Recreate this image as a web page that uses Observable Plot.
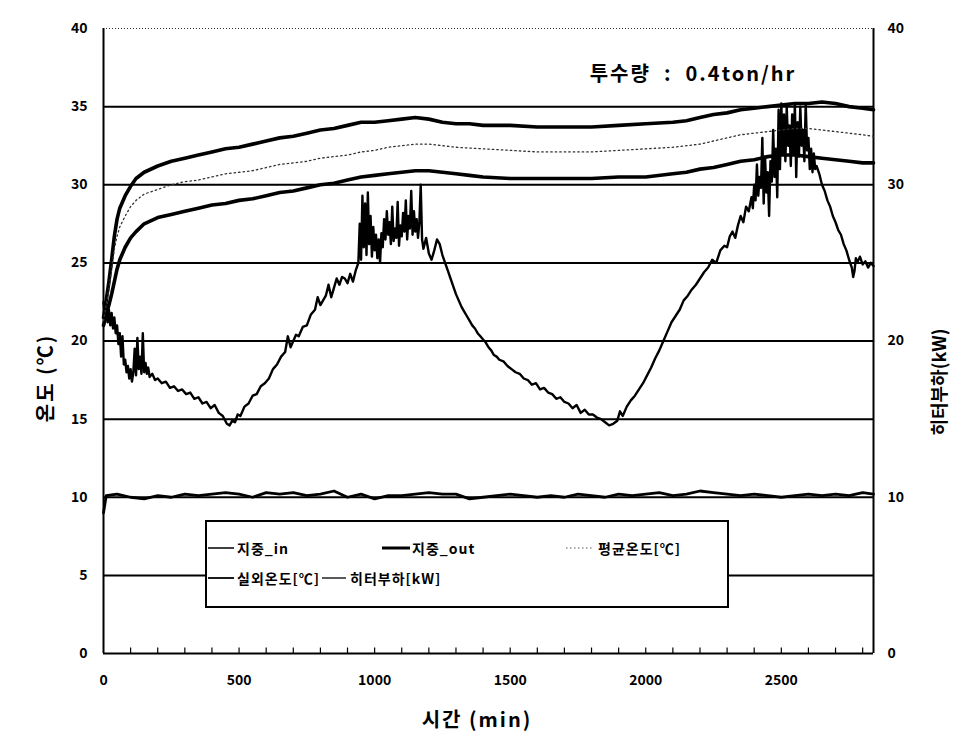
<!DOCTYPE html>
<html><head><meta charset="utf-8">
<script src="https://cdn.jsdelivr.net/npm/d3@7"></script>
<script src="https://cdn.jsdelivr.net/npm/@observablehq/plot@0.6"></script>
<style>body{margin:0;background:#fff} svg{display:block}</style>
</head><body><div id="chart"></div>
<script>
// ---------- data ----------
const xDomain = [0, 2840];
const yDomain = [0, 40];
const xTicks = [0, 500, 1000, 1500, 2000, 2500];
const minorTicks = [100,200,300,400,500,600,700,800,900,1000,1100,1200,1300,1400,1500,1600,1700,1800,1900,2000,2100,2200,2300,2400,2500,2600,2700,2800];
const leftTicks = [0, 5, 10, 15, 20, 25, 30, 35, 40];
const rightTicks = [0, 10, 20, 30, 40];
const gridValues = [5, 10, 15, 20, 25, 30, 35];

const groundTime = [0,5,10,20,30,40,50,60,80,100,120,150,200,250,300,350,400,450,500,550,600,650,700,750,800,850,900,950,1000,1050,1100,1150,1200,1250,1300,1350,1400,1500,1600,1700,1800,1900,2000,2100,2150,2200,2250,2300,2350,2400,2450,2500,2550,2600,2650,2700,2750,2800,2840];
const groundOut = [21.5,22.0,22.6,23.8,25.2,26.7,27.8,28.5,29.3,29.9,30.4,30.8,31.2,31.5,31.7,31.9,32.1,32.3,32.4,32.6,32.8,33.0,33.1,33.3,33.5,33.6,33.8,34.0,34.0,34.1,34.2,34.3,34.2,34.0,33.9,33.9,33.8,33.8,33.7,33.7,33.7,33.8,33.9,34.0,34.1,34.3,34.5,34.6,34.8,34.9,35.0,35.1,35.2,35.2,35.3,35.2,35.0,34.9,34.8];
const groundIn = [21.0,21.3,21.7,22.3,23.0,23.8,24.6,25.2,26.0,26.6,27.0,27.5,27.9,28.1,28.3,28.5,28.7,28.8,29.0,29.1,29.3,29.5,29.6,29.8,30.0,30.1,30.3,30.5,30.6,30.7,30.8,30.9,30.9,30.8,30.7,30.6,30.5,30.4,30.4,30.4,30.4,30.5,30.5,30.7,30.8,31.0,31.1,31.3,31.5,31.6,31.8,31.9,31.9,31.8,31.7,31.6,31.5,31.4,31.4];
const groundMean = [21.3,21.8,22.3,23.3,24.6,25.9,26.7,27.3,28.0,28.6,29.0,29.4,29.7,30.0,30.2,30.3,30.5,30.7,30.8,30.9,31.1,31.3,31.4,31.5,31.7,31.8,31.9,32.1,32.2,32.4,32.5,32.6,32.6,32.5,32.4,32.35,32.3,32.2,32.1,32.1,32.1,32.2,32.3,32.4,32.5,32.6,32.8,33.0,33.2,33.3,33.4,33.5,33.6,33.6,33.5,33.4,33.3,33.2,33.1];

const outdoorTime = [0,5,10,15,20,25,30,35,40,45,50,55,60,65,70,75,80,85,90,95,100,105,110,115,120,125,130,135,140,145,150,155,160,165,170,180,190,200,215,230,245,260,275,290,305,320,335,350,365,380,395,410,425,440,455,465,475,485,495,505,520,535,550,565,580,595,610,625,640,655,670,680,690,700,710,720,735,750,765,780,790,800,810,820,830,840,850,860,870,880,890,900,910,920,930,940,945,950,955,960,965,970,975,980,985,990,995,1000,1005,1010,1015,1020,1025,1030,1035,1040,1045,1050,1055,1060,1065,1070,1075,1080,1085,1090,1095,1100,1105,1110,1115,1120,1125,1130,1135,1140,1145,1150,1155,1160,1165,1170,1175,1180,1190,1200,1210,1220,1230,1240,1250,1260,1270,1280,1290,1300,1310,1320,1330,1340,1350,1360,1370,1380,1390,1400,1410,1420,1430,1440,1450,1460,1475,1490,1505,1520,1535,1550,1565,1580,1595,1610,1625,1640,1655,1670,1685,1700,1715,1730,1745,1760,1775,1790,1805,1820,1835,1850,1865,1880,1895,1905,1915,1930,1945,1960,1975,1990,2005,2020,2035,2050,2065,2080,2095,2110,2125,2140,2155,2170,2185,2200,2215,2230,2245,2260,2275,2290,2300,2310,2320,2330,2340,2350,2360,2370,2380,2390,2395,2400,2405,2410,2415,2420,2425,2430,2435,2440,2445,2450,2455,2460,2465,2470,2475,2480,2485,2490,2495,2500,2505,2510,2515,2520,2525,2530,2535,2540,2545,2550,2555,2560,2565,2570,2575,2580,2585,2590,2595,2600,2605,2610,2615,2620,2625,2630,2640,2650,2660,2670,2680,2690,2700,2710,2720,2730,2740,2750,2760,2765,2770,2775,2780,2790,2800,2810,2820,2830,2840];
const outdoorTemp = [22.5,21.5,22.3,21.2,22.0,21.0,21.8,20.8,21.5,20.5,21.0,19.8,20.5,19.0,20.3,18.5,18.8,18.0,18.4,17.6,18.2,17.4,18.0,19.5,17.8,20.2,18.2,19.0,17.9,20.5,18.0,18.6,17.9,18.3,17.7,17.9,17.5,17.6,17.3,17.4,17.0,17.1,16.8,16.9,16.6,16.7,16.3,16.4,16.0,16.1,15.7,15.9,15.4,15.2,14.7,14.6,14.9,14.8,15.3,15.2,15.8,16.0,16.5,16.6,17.1,17.3,17.6,18.2,18.5,19.0,19.3,20.3,19.6,20.0,20.4,20.3,20.9,21.0,21.7,22.0,22.8,22.3,22.6,22.9,23.6,22.8,23.4,24.0,23.6,24.1,24.0,23.7,24.3,23.8,24.5,25.0,27.5,25.2,29.3,26.0,28.8,25.5,29.5,26.2,28.0,25.4,27.3,25.8,26.8,25.3,26.5,25.0,26.9,26.0,27.8,26.5,28.3,26.8,27.6,26.2,28.6,26.4,27.2,26.6,28.9,26.1,27.4,26.7,28.2,27.0,29.0,26.5,28.0,27.2,29.6,26.8,28.3,27.0,27.8,26.6,27.6,30.0,26.5,25.9,26.6,25.6,25.2,25.8,26.5,26.2,25.5,25.0,24.5,24.0,23.5,23.0,22.6,22.2,21.9,21.6,21.3,21.0,20.8,20.5,20.3,20.1,19.9,19.6,19.4,19.1,19.0,18.8,18.7,18.4,18.2,18.0,17.9,17.6,17.5,17.2,17.3,16.9,17.0,16.7,16.6,16.3,16.4,16.1,16.0,15.7,15.9,15.4,15.6,15.3,15.3,15.1,15.0,14.8,14.6,14.7,14.9,15.5,15.2,15.8,16.2,16.5,16.9,17.3,17.8,18.3,18.9,19.4,20.0,20.6,21.2,21.6,22.0,22.6,22.9,23.3,23.6,24.0,24.4,24.7,25.2,25.0,25.8,26.1,26.0,26.7,27.0,26.6,27.4,28.0,27.6,28.6,28.3,29.2,28.5,30.0,29.0,31.3,29.3,30.5,29.8,33.0,28.8,31.8,29.5,30.8,28.0,31.5,30.2,33.5,30.5,32.3,29.2,34.8,31.0,35.2,32.0,34.5,31.5,35.0,32.5,33.8,31.2,34.5,32.0,35.2,30.5,34.0,31.8,35.0,32.5,33.5,31.5,35.2,32.2,33.0,31.0,32.3,30.8,32.0,31.0,31.2,30.7,30.0,29.6,29.0,28.6,28.0,27.6,27.1,26.8,26.2,25.8,25.2,24.7,24.1,24.5,25.3,25.0,25.4,24.9,25.1,24.7,25.0,24.8];

const heaterTime = [0,10,50,100,150,200,250,300,350,400,450,500,550,600,650,700,750,800,850,900,950,1000,1050,1100,1150,1200,1250,1300,1350,1400,1450,1500,1550,1600,1650,1700,1750,1800,1850,1900,1950,2000,2050,2100,2150,2200,2250,2300,2350,2400,2450,2500,2550,2600,2650,2700,2750,2800,2840];
const heaterLoad = [9.0,10.1,10.2,10.0,9.9,10.1,10.0,10.2,10.1,10.2,10.3,10.2,10.0,10.3,10.2,10.3,10.1,10.2,10.4,10.0,10.2,9.9,10.1,10.1,10.2,10.3,10.2,10.2,9.9,10.0,10.1,10.2,10.1,10.0,10.1,10.0,10.2,10.1,10.0,10.2,10.1,10.2,10.3,10.1,10.2,10.4,10.3,10.2,10.1,10.2,10.1,10.0,10.1,10.2,10.1,10.2,10.1,10.3,10.2];

const titleText = "투수량  :  0.4ton/hr";
const xLabel = "시간 (min)";
const yLabel = "온도 (℃)";
const y2Label = "히터부하(kW)";
const legendRow1 = ["지중_in", "지중_out", "평균온도[℃]"];
const legendRow2 = ["실외온도[℃]", "히터부하[kW]"];

// ---------- build ----------
const FONT = '"Noto Sans CJK KR", "DejaVu Sans", sans-serif';
const ground = groundTime.map((t, i) => ({t, vin: groundIn[i], vout: groundOut[i], vmean: groundMean[i]}));
const outdoor = outdoorTime.map((t, i) => ({t, v: outdoorTemp[i]}));
const heater = heaterTime.map((t, i) => ({t, v: heaterLoad[i]}));

const chart = Plot.plot({
  width: 957, height: 733,
  marginLeft: 103, marginRight: 84, marginTop: 28, marginBottom: 80,
  style: {fontFamily: FONT, fontSize: "14px", fontWeight: 700, background: "#fff", color: "#000"},
  x: {domain: xDomain},
  y: {domain: yDomain},
  marks: [
    Plot.ruleY(gridValues, {stroke: "#000", strokeWidth: 2}),
    Plot.ruleY([yDomain[1]], {stroke: "#333", strokeWidth: 1, strokeDasharray: "1,2"}),
    Plot.ruleY([yDomain[0]], {stroke: "#000", strokeWidth: 2}),
    Plot.ruleX(xDomain, {stroke: "#000", strokeWidth: 2}),
    Plot.ruleX(minorTicks, {y1: 0, y2: 0.35, stroke: "#000", strokeWidth: 1.2}),
    Plot.line(heater, {x: "t", y: "v", stroke: "#000", strokeWidth: 2.8}),
    Plot.line(outdoor, {x: "t", y: "v", stroke: "#000", strokeWidth: 2.4}),
    Plot.line(ground, {x: "t", y: "vin", stroke: "#000", strokeWidth: 3.6}),
    Plot.line(ground, {x: "t", y: "vout", stroke: "#000", strokeWidth: 3.6}),
    Plot.line(ground, {x: "t", y: "vmean", stroke: "#333", strokeWidth: 1.3, strokeDasharray: "1.5,3"}),
    Plot.axisY({ticks: leftTicks, tickSize: 0, tickPadding: 16, label: null, fontSize: 14}),
    Plot.axisY({anchor: "right", ticks: rightTicks, tickSize: 0, tickPadding: 14, label: null, fontSize: 14}),
    Plot.axisX({ticks: xTicks, tickSize: 0, tickPadding: 22, label: null, tickFormat: d3.format("d"), fontSize: 14})
  ]
});
document.getElementById("chart").appendChild(chart);

// ---------- annotations & legend ----------
const svg = d3.select(chart);
const txt = (parent, x, y, s, size, opts = {}) => {
  const t = parent.append("text").attr("x", x).attr("y", y).text(s)
    .attr("font-family", FONT).attr("font-weight", 700).attr("font-size", size)
    .attr("fill", "#000").attr("dominant-baseline", "central")
    .attr("text-anchor", opts.anchor || "start")
    .attr("letter-spacing", opts.ls || 0)
    .style("white-space", "pre");
  if (opts.rotate) t.attr("transform", `rotate(${opts.rotate},${x},${y})`);
  return t;
};
txt(svg, 693, 72, titleText, 20, {anchor: "middle", ls: 2});
txt(svg, 477, 718, xLabel, 20, {anchor: "middle", ls: 2});
txt(svg, 44, 378, yLabel, 20, {anchor: "middle", rotate: -90, ls: 2});
txt(svg, 938, 382, y2Label, 18, {anchor: "middle", rotate: -90});

const lg = svg.append("g");
lg.append("rect").attr("x", 206).attr("y", 521).attr("width", 522).attr("height", 86)
  .attr("fill", "#fff").attr("stroke", "#000").attr("stroke-width", 2);
const sample = (x1, x2, y, w, dash, col) => {
  const l = lg.append("line").attr("x1", x1).attr("x2", x2).attr("y1", y).attr("y2", y)
    .attr("stroke", col || "#000").attr("stroke-width", w);
  if (dash) l.attr("stroke-dasharray", dash);
};
const r1 = 548, r2 = 578;
sample(208, 234, r1, 1.5);
txt(lg, 237, r1, legendRow1[0], 14, {ls: 1});
sample(382, 410, r1, 3);
txt(lg, 412, r1, legendRow1[1], 14, {ls: 1});
sample(566, 592, r1, 1.2, "1.5,2.5", "#555");
txt(lg, 598, r1, legendRow1[2], 14, {ls: 1});
sample(208, 234, r2, 1.8);
txt(lg, 237, r2, legendRow2[0], 14, {ls: 1});
sample(322, 346, r2, 1.3);
txt(lg, 350, r2, legendRow2[1], 14, {ls: 1});
</script>
</body></html>
